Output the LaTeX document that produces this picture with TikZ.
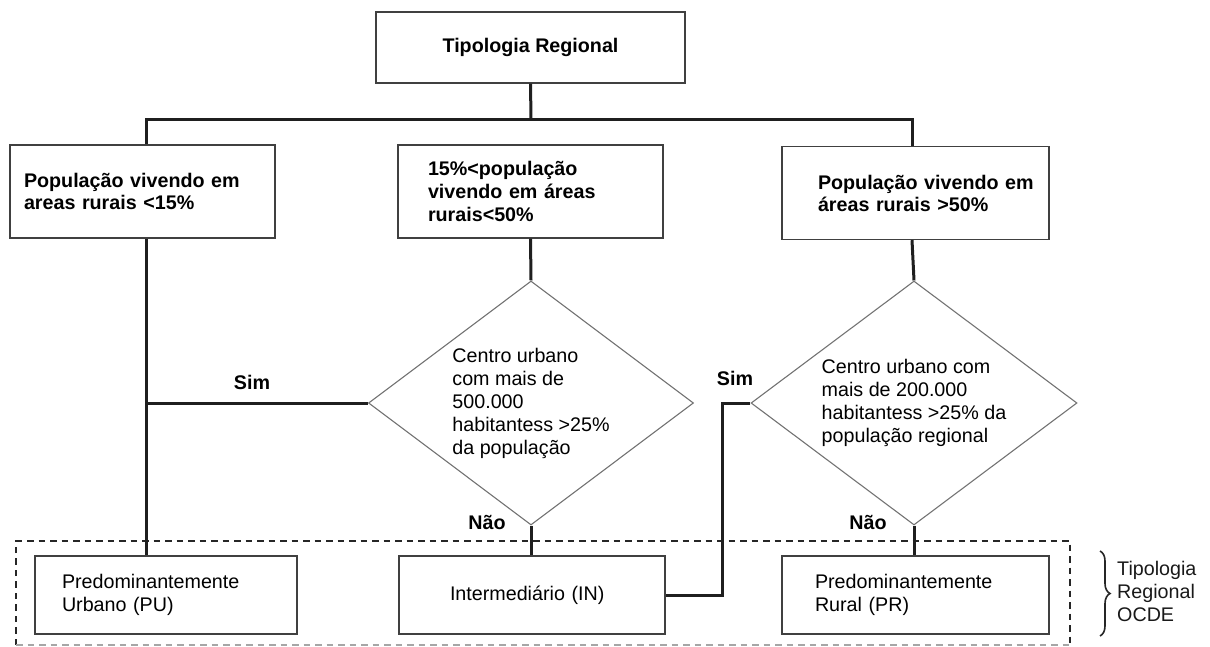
\documentclass[tikz,border=0pt]{standalone}
\usepackage{fontspec}
\setmainfont{Liberation Sans}
\usetikzlibrary{shapes.geometric,decorations.pathreplacing}
\begin{document}
\begin{tikzpicture}[x=1pt,y=-1pt,
  every node/.style={font=\fontsize{19.7}{23}\selectfont, text=black},
  box/.style={draw=black!75, line width=1.4pt, rectangle, align=left, inner ysep=0pt, minimum height=#1},
  box/.default=93pt,
  dia/.style={draw=black!55, line width=1.1pt, diamond, shape aspect=1.33, inner sep=0pt, align=left, minimum width=325pt, minimum height=244pt},
  conn/.style={draw=black!88, line width=3pt},
  lbl/.style={font=\fontsize{19.7}{23}\selectfont\bfseries}
]
\useasboundingbox (0,0) rectangle (1210,646);

% top box
\node[box=71pt, minimum width=309pt, font=\fontsize{19.7}{23}\selectfont\bfseries, align=center] (top) at (530.5,47.5) {Tipologia Regional};

% second row
\node[box, inner xsep=14pt, text width=237pt, font=\fontsize{19.7}{22}\selectfont\bfseries] (b1) at (142.5,191.5) {População vivendo em\\areas rurais <15\%};
\node[box, inner xsep=30pt, text width=205pt, font=\fontsize{19.7}{23}\selectfont\bfseries] (b2) at (530.5,191.5) {15\%<população\\vivendo em áreas\\rurais<50\%};
\node[box, inner xsep=12pt, text width=243pt, font=\fontsize{19.7}{22}\selectfont\bfseries] (b3) at (915.5,193) {\hspace*{24pt}População vivendo em\\\hspace*{24pt}áreas rurais >50\%};

% diamonds
\node[dia] (d1) at (531,403) {Centro urbano\\com mais de\\500.000\\habitantess >25\%\\da população};
\node[dia, minimum width=326pt] (d2) at (914,403) {Centro urbano com\\mais de 200.000\\habitantess >25\% da\\população regional};

% bottom boxes
\node[box=78pt, inner xsep=27pt, text width=208pt] (pu) at (166,595) {Predominantemente\\Urbano (PU)};
\node[box=78pt, inner xsep=51pt, text width=164pt] (in) at (532,595) {Intermediário (IN)};
\node[box=78pt, inner xsep=33pt, text width=201pt] (pr) at (915.5,595) {Predominantemente\\Rural (PR)};

% dashed group frame
\coordinate (gtl) at (16,541);
\coordinate (gtr) at (1070,541);
\coordinate (gbl) at (16,645);
\coordinate (gbr) at (1070,645);
\draw[black!85, line width=2.6pt, dash pattern=on 6.5pt off 5pt] (gbl) -- (gtl) -- (gtr) -- (gbr);
\draw[black!35, line width=1.5pt, dash pattern=on 6.5pt off 5pt] (gbl) -- (gbr);

% brace and label
\coordinate (brt) at (1100,551);
\coordinate (brb) at (1100,636);
\draw[black!85, line width=1.6pt, decorate, decoration={brace, amplitude=10pt}] (brt) -- (brb);
\node[anchor=west, align=left, text=black!90, inner sep=0pt] (ocde) at (1117,591) {Tipologia\\Regional\\OCDE};

% connectors
\coordinate (j) at (531,119);
\coordinate (xl) at (146,0);
\coordinate (xr) at (912,0);
\coordinate (xs) at (722,0);
\draw[conn] (top.south) -- (j);
\draw[conn] (xl |- b1.north) |- (j) -| (xr |- b3.north);
\draw[conn] (xl |- b1.south) -- (xl |- pu.north);
\draw[conn] (d1.west) -- (xl |- d1.west);
\draw[conn] (b2.south) -- (d1.north);
\draw[conn] (d1.south) -- (d1.south |- in.north);
\draw[conn] (xr |- b3.south) -- (d2.north);
\draw[conn] (d2.west) -- (xs |- d2.west) -- (xs |- in.east) -- (in.east);
\draw[conn] (d2.south) -- (d2.south |- pr.north);

% labels
\node[lbl] (sim1) at (252,382) {Sim};
\node[lbl] (nao1) at (487,522) {Não};
\node[lbl] (sim2) at (735,378) {Sim};
\node[lbl] (nao2) at (868,522) {Não};
\end{tikzpicture}
\end{document}
